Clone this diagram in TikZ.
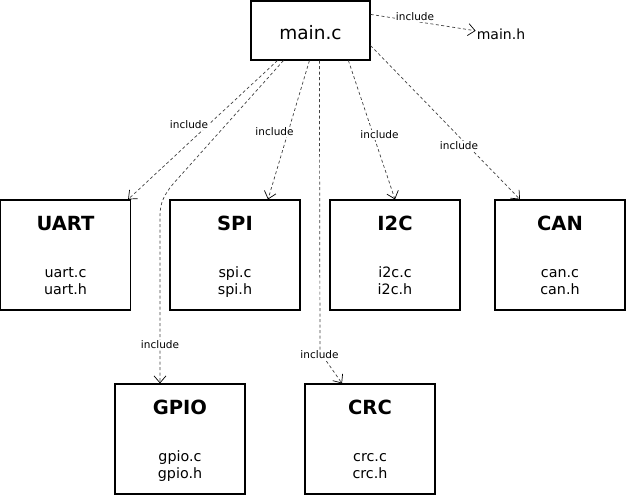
\documentclass[tikz,border=0pt]{standalone}
\usepackage{fontspec}
\setmainfont{DejaVu Sans}
\usetikzlibrary{arrows.meta,calc}
\begin{document}
\begin{tikzpicture}[x=1pt,y=-1pt,
 box/.style={draw,line width=1.2pt,minimum width=130pt,minimum height=110pt,inner sep=0pt},
 mainbox/.style={draw,line width=1.2pt,minimum width=119pt,minimum height=59pt,inner sep=0pt},
 ttl/.style={font=\fontsize{19.5}{21}\selectfont\bfseries,inner sep=0pt},
 fl/.style={font=\fontsize{14.3}{16}\selectfont,inner sep=0pt},
 dep/.style={draw=black!75,line width=0.7pt,dash pattern=on 3pt off 2.5pt,
   -{Straight Barb[length=7pt,width=12pt,line width=0.7pt,color=black]}},
 lbl/.style={font=\fontsize{10.5}{12}\selectfont,fill=white,inner sep=1pt}]
\newcommand{\modbox}[6]{%
 \node[box] (#1) at (#2,#3+55) {};
 \node[ttl,anchor=base] (#1-t) at (#2,#3+30) {#4};
 \node[fl,anchor=base] (#1-a) at (#2,#3+77.5) {#5};
 \node[fl,anchor=base] (#1-b) at (#2,#3+94.5) {#6};
}
\useasboundingbox (0,0) rectangle (626,495);
% main
\node[mainbox] (main) at (310.5,30.5) {};
\node[font=\fontsize{18.5}{20}\selectfont,anchor=base,inner sep=0pt] (mainT) at (310.5,40) {main.c};
\node[font=\fontsize{14}{15}\selectfont,anchor=base,inner sep=0pt] (mainh) at (501,40) {main.h};
% modules
\modbox{uart}{65.5}{200}{UART}{uart.c}{uart.h}
\modbox{spi}{235}{200}{SPI}{spi.c}{spi.h}
\modbox{i2c}{395}{200}{I2C}{i2c.c}{i2c.h}
\modbox{can}{560}{200}{CAN}{can.c}{can.h}
\modbox{gpio}{180}{384}{GPIO}{gpio.c}{gpio.h}
\modbox{crc}{370}{384}{CRC}{crc.c}{crc.h}
% connectors
\draw[dep] ($(main.north east)+(0,14)$) -- ($(mainh.west)+(-1,-4)$);
\node[lbl] (l0) at (415,17) {include};
\draw[dep] ($(main.south west)+(27,0)$) -- ($(uart.north east)+(-3,0)$);
\node[lbl] (l1) at (189,125) {include};
\draw[dep] ($(main.south west)+(33,0)$) -- (173,184) .. controls (164,195) and (160,203) .. (160,216) -- ($(gpio.north)+(-20,0)$);
\node[lbl] (l2) at (160,345) {include};
\draw[dep] ($(main.south west)+(59,0)$) -- ($(spi.north)+(33,0)$);
\node[lbl] (l3) at (274.5,132) {include};
\draw[dep] ($(main.south west)+(69,0)$) -- (320,352) -- ($(crc.north)+(-28,0)$);
\node[lbl] (l4) at (319.5,355) {include};
\draw[dep] ($(main.south west)+(98,0)$) -- ($(i2c.north)+(0,0)$);
\node[lbl] (l5) at (379.5,135) {include};
\draw[dep] ($(main.south east)+(0,-15)$) -- ($(can.north)+(-40,0)$);
\node[lbl] (l6) at (459,146) {include};
\end{tikzpicture}
\end{document}
